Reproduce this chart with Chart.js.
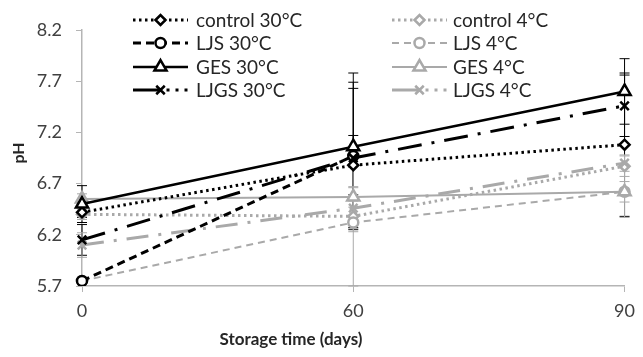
<!DOCTYPE html>
<html><head><meta charset="utf-8">
<script src="https://cdn.jsdelivr.net/npm/chart.js@4"></script>
<style>html,body{margin:0;padding:0;background:#fff}#wrap{width:643px;height:357px}</style>
</head><body><div id="wrap"><canvas id="c" width="643" height="357"></canvas></div>
<script>
const days = ['0', '60', '90'];
const yTicks = [5.7, 6.2, 6.7, 7.2, 7.7, 8.2];
const seriesNames = ['control 30°C', 'LJS 30°C', 'GES 30°C', 'LJGS 30°C', 'control 4°C', 'LJS 4°C', 'GES 4°C', 'LJGS 4°C'];
const xTitle = 'Storage time (days)';
const yTitle = 'pH';
const control30 = [6.42, 6.88, 7.08];
const ljs30 = [5.75, 6.97, null];
const ges30 = [6.50, 7.06, 7.60];
const ljgs30 = [6.15, 6.95, 7.46];
const control4 = [6.40, 6.38, 6.87];
const ljs4 = [5.75, 6.32, 6.62];
const ges4 = [6.55, 6.57, 6.62];
const ljgs4 = [6.10, 6.46, 6.90];
const errControl30 = [0.05, 0.29, 0.70];
const errLjs30 = [0.03, 0.72, 0];
const errGes30 = [0.18, 0.72, 0.32];
const errLjgs30 = [0.15, 0.68, 0.30];
const errControl4 = [0.05, 0.15, 0.10];
const errLjs4 = [0.03, 0.62, 0.25];
const errGes4 = [0.05, 0.10, 0.10];
const errLjgs4 = [0.12, 0.20, 0.08];

const BLACK = '#000000', GREY = '#a9a9a9', AXIS = '#b5b5b5', TXT = '#404040', LTXT = '#262626';
const FONT = 'Lato, "Open Sans", sans-serif';

function ds(label, data, err, color, dash, style, radius, width) {
  return { label, data, err, borderColor: color, backgroundColor: color, borderDash: dash,
    borderWidth: width, borderCapStyle: 'butt', pointStyle: style, pointRadius: radius,
    pointBorderColor: color, pointBackgroundColor: '#ffffff', pointBorderWidth: 2.5,
    pointHoverRadius: radius, tension: 0, fill: false, spanGaps: false };
}
const datasets = [
  ds(seriesNames[2], ges30, errGes30, BLACK, [], 'triangle', 7, 2.5),
  ds(seriesNames[3], ljgs30, errLjgs30, BLACK, [24, 10, 3, 10], 'crossRot', 6, 3),
  ds(seriesNames[1], ljs30, errLjs30, BLACK, [8, 5], 'circle', 5, 3),
  ds(seriesNames[0], control30, errControl30, BLACK, [2.5, 3.5], 'rectRot', 5, 3),
  ds(seriesNames[6], ges4, errGes4, GREY, [], 'triangle', 7, 2),
  ds(seriesNames[7], ljgs4, errLjgs4, GREY, [22, 10, 3, 10], 'crossRot', 6, 3),
  ds(seriesNames[5], ljs4, errLjs4, GREY, [7, 5], 'circle', 5, 2),
  ds(seriesNames[4], control4, errControl4, GREY, [2.5, 3.5], 'rectRot', 5, 3),
];

const errorBars = {
  id: 'errorBars',
  beforeDatasetsDraw(chart) {
    const ctx = chart.ctx, xs = chart.scales.x, ys = chart.scales.y;
    ctx.save();
    ctx.lineWidth = 1;
    chart.data.datasets.forEach(d => {
      d.data.forEach((v, i) => {
        if (v == null || !d.err[i]) return;
        const x = xs.getPixelForValue(i);
        const y1 = ys.getPixelForValue(Math.min(v + d.err[i], ys.max));
        const y2 = ys.getPixelForValue(Math.max(v - d.err[i], ys.min));
        ctx.strokeStyle = d.borderColor;
        ctx.beginPath();
        ctx.moveTo(x, y1); ctx.lineTo(x, y2);
        if (v + d.err[i] <= ys.max) { ctx.moveTo(x - 5, y1); ctx.lineTo(x + 5, y1); }
        if (v - d.err[i] >= ys.min) { ctx.moveTo(x - 5, y2); ctx.lineTo(x + 5, y2); }
        ctx.stroke();
      });
    });
    ctx.restore();
  }
};

const legendOrder = [3, 2, 0, 1, 7, 6, 4, 5];
const customLegend = {
  id: 'customLegend',
  afterDraw(chart) {
    const ctx = chart.ctx;
    ctx.save();
    // axis titles
    ctx.fillStyle = LTXT;
    ctx.textAlign = 'center';
    ctx.textBaseline = 'middle';
    ctx.font = 'bold 17px ' + FONT;
    ctx.fillText(xTitle, 291, 340);
    ctx.save();
    ctx.translate(19, 153);
    ctx.rotate(-Math.PI / 2);
    ctx.font = 'bold 16px ' + FONT;
    ctx.fillText(yTitle, 0, 0);
    ctx.restore();
    // legend
    ctx.textAlign = 'left';
    ctx.font = '19px ' + FONT;
    const cols = [{ x0: 133, x1: 188, tx: 196 }, { x0: 392, x1: 447, tx: 453 }];
    const rows = [20, 43, 67, 90];
    legendOrder.forEach((di, k) => {
      const d = chart.data.datasets[di];
      const col = cols[Math.floor(k / 4)], y = rows[k % 4];
      const mid = (col.x0 + col.x1) / 2;
      ctx.strokeStyle = d.borderColor;
      ctx.lineWidth = d.borderWidth;
      if (d.borderDash.length === 4) {
        ctx.setLineDash([]);
        ctx.beginPath(); ctx.moveTo(col.x0, y); ctx.lineTo(mid, y); ctx.stroke();
        ctx.setLineDash([3, 6]);
        ctx.beginPath(); ctx.moveTo(mid + 6, y); ctx.lineTo(col.x1, y); ctx.stroke();
      } else {
        ctx.setLineDash(d.borderDash);
        ctx.beginPath(); ctx.moveTo(col.x0, y); ctx.lineTo(col.x1, y); ctx.stroke();
      }
      ctx.setLineDash([]);
      ctx.fillStyle = '#ffffff';
      ctx.strokeStyle = d.borderColor;
      ctx.lineWidth = 2.5;
      Chart.helpers.drawPoint(ctx, { pointStyle: d.pointStyle, radius: d.pointRadius, rotation: 0, borderWidth: 2.5 }, mid, y);
      ctx.fillStyle = LTXT;
      ctx.fillText(d.label, col.tx, y + 1);
    });
    ctx.restore();
  }
};

new Chart(document.getElementById('c'), {
  type: 'line',
  data: { labels: days, datasets },
  options: {
    responsive: false, animation: false,
    layout: { padding: { left: 0, right: 11, top: 30, bottom: 0 } },
    plugins: { legend: { display: false }, tooltip: { enabled: false } },
    scales: {
      x: {
        type: 'category', offset: false,
        grid: { display: true, drawOnChartArea: false, drawTicks: true, tickLength: 6, color: AXIS, lineWidth: 1 },
        border: { display: true, color: AXIS, width: 1.5 },
        ticks: { color: TXT, font: { family: FONT, size: 18 }, padding: 8, maxRotation: 0 },
        title: { display: false },
        afterFit(s) { s.height = 71; }
      },
      y: {
        min: 5.7, max: 8.2,
        afterBuildTicks(s) { s.ticks = yTicks.map(v => ({ value: v })); },
        grid: { display: true, drawOnChartArea: false, drawTicks: true, tickLength: 6, color: AXIS, lineWidth: 1 },
        border: { display: true, color: AXIS, width: 1.5 },
        ticks: { color: TXT, font: { family: FONT, size: 18 }, padding: 14, callback: v => Number(v).toFixed(1) },
        title: { display: false },
        afterFit(s) { s.width = 82; }
      }
    }
  },
  plugins: [errorBars, customLegend]
});
</script></body></html>
